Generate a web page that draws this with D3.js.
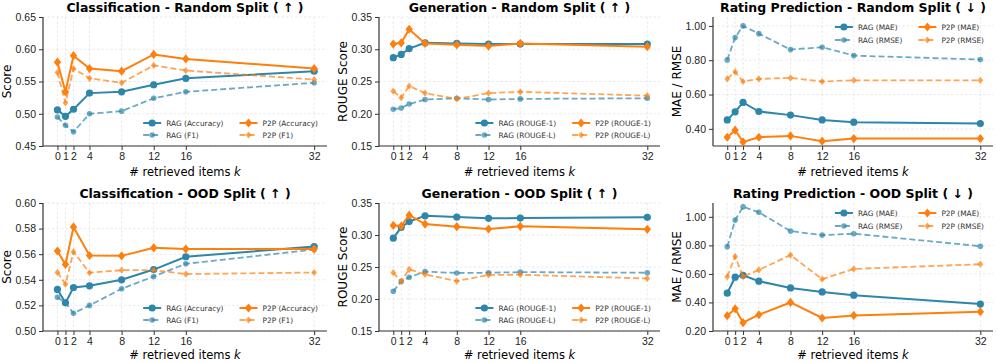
<!DOCTYPE html>
<meta charset="utf-8">
<style>
body { margin: 0; background: #fff; }
svg { font-family: "DejaVu Sans", sans-serif; }
.tick text { font-size: 10.5px; fill: #222; }
.grid line { stroke: #ccc; stroke-opacity: 0.6; stroke-dasharray: 2.5,2; stroke-width: 0.7; }
.title { font-size: 12.5px; font-weight: bold; }
.alabel { font-size: 11.5px; }
.ylabel { font-size: 12px; }
.legend text { font-size: 7.4px; fill: #333; }
</style>
<svg width="997" height="363"></svg>
<script src="https://cdn.jsdelivr.net/npm/d3@7"></script>
<script>

var ks = [0, 1, 2, 4, 8, 12, 16, 32];

// classification, random split
var clsRandRagAcc = [0.506, 0.496, 0.507, 0.532, 0.534, 0.545, 0.555, 0.566];
var clsRandRagF1  = [0.495, 0.482, 0.472, 0.500, 0.504, 0.524, 0.534, 0.548];
var clsRandP2pAcc = [0.580, 0.534, 0.590, 0.570, 0.566, 0.592, 0.585, 0.570];
var clsRandP2pF1  = [0.564, 0.517, 0.570, 0.555, 0.548, 0.575, 0.567, 0.553];

// generation, random split
var genRandRagR1 = [0.287, 0.292, 0.301, 0.310, 0.309, 0.308, 0.308, 0.308];
var genRandRagRL = [0.207, 0.209, 0.215, 0.222, 0.224, 0.222, 0.223, 0.224];
var genRandP2pR1 = [0.308, 0.310, 0.331, 0.309, 0.307, 0.305, 0.309, 0.304];
var genRandP2pRL = [0.235, 0.225, 0.243, 0.232, 0.223, 0.232, 0.234, 0.228];

// rating, random split
var ratRandRagMAE  = [0.452, 0.499, 0.554, 0.501, 0.480, 0.452, 0.439, 0.431];
var ratRandRagRMSE = [0.802, 0.932, 1.000, 0.955, 0.862, 0.876, 0.827, 0.804];
var ratRandP2pMAE  = [0.351, 0.392, 0.324, 0.351, 0.359, 0.328, 0.343, 0.343];
var ratRandP2pRMSE = [0.691, 0.732, 0.676, 0.691, 0.697, 0.676, 0.683, 0.683];

// classification, ood split
var clsOodRagAcc = [0.5325, 0.522, 0.534, 0.5353, 0.540, 0.548, 0.558, 0.566];
var clsOodRagF1  = [0.5263, 0.522, 0.5138, 0.520, 0.533, 0.5426, 0.5525, 0.5636];
var clsOodP2pAcc = [0.5625, 0.552, 0.5813, 0.559, 0.5587, 0.565, 0.564, 0.564];
var clsOodP2pF1  = [0.5458, 0.5366, 0.5618, 0.5455, 0.5475, 0.5475, 0.5445, 0.5457];

// generation, ood split
var genOodRagR1 = [0.295, 0.312, 0.321, 0.330, 0.328, 0.326, 0.3265, 0.3276];
var genOodRagRL = [0.212, 0.2275, 0.234, 0.2427, 0.2406, 0.241, 0.242, 0.241];
var genOodP2pR1 = [0.315, 0.314, 0.331, 0.317, 0.313, 0.3094, 0.3135, 0.3088];
var genOodP2pRL = [0.2412, 0.2277, 0.2464, 0.2386, 0.228, 0.2375, 0.238, 0.232];

// rating, ood split
var ratOodRagMAE  = [0.465, 0.577, 0.590, 0.549, 0.502, 0.474, 0.451, 0.389];
var ratOodRagRMSE = [0.791, 0.977, 1.070, 1.032, 0.900, 0.872, 0.882, 0.794];
var ratOodP2pMAE  = [0.307, 0.356, 0.258, 0.314, 0.400, 0.291, 0.309, 0.335];
var ratOodP2pRMSE = [0.581, 0.722, 0.581, 0.628, 0.732, 0.563, 0.635, 0.668];

var blue = "#2E86AB", orange = "#FF7F0E";

var panels = [
  {title: "Classification - Random Split ( \u2191 )", ylab: "Score", y: [0.45, 0.65], ticks: [0.45, 0.50, 0.55, 0.60, 0.65],
   names: ["Accuracy", "F1"], s: [clsRandRagAcc, clsRandRagF1, clsRandP2pAcc, clsRandP2pF1], leg: "lower",
   box: [43, 327, 17, 146]},
  {title: "Generation - Random Split ( \u2191 )", ylab: "ROUGE Score", y: [0.15, 0.35], ticks: [0.15, 0.20, 0.25, 0.30, 0.35],
   names: ["ROUGE-1", "ROUGE-L"], s: [genRandRagR1, genRandRagRL, genRandP2pR1, genRandP2pRL], leg: "lower",
   box: [379, 660, 17, 146]},
  {title: "Rating Prediction - Random Split ( \u2193 )", ylab: "MAE / RMSE", y: [0.30, 1.052], ticks: [0.40, 0.60, 0.80, 1.00],
   names: ["MAE", "RMSE"], s: [ratRandRagMAE, ratRandRagRMSE, ratRandP2pMAE, ratRandP2pRMSE], leg: "upper",
   box: [713, 993, 17, 146]},
  {title: "Classification - OOD Split ( \u2191 )", ylab: "Score", y: [0.50, 0.60], ticks: [0.50, 0.52, 0.54, 0.56, 0.58, 0.60],
   names: ["Accuracy", "F1"], s: [clsOodRagAcc, clsOodRagF1, clsOodP2pAcc, clsOodP2pF1], leg: "lower",
   box: [43, 327, 203, 331]},
  {title: "Generation - OOD Split ( \u2191 )", ylab: "ROUGE Score", y: [0.15, 0.35], ticks: [0.15, 0.20, 0.25, 0.30, 0.35],
   names: ["ROUGE-1", "ROUGE-L"], s: [genOodRagR1, genOodRagRL, genOodP2pR1, genOodP2pRL], leg: "lower",
   box: [379, 660, 203, 331]},
  {title: "Rating Prediction - OOD Split ( \u2193 )", ylab: "MAE / RMSE", y: [0.20, 1.097], ticks: [0.20, 0.40, 0.60, 0.80, 1.00],
   names: ["MAE", "RMSE"], s: [ratOodRagMAE, ratOodRagRMSE, ratOodP2pMAE, ratOodP2pRMSE], leg: "upper",
   box: [713, 993, 203, 331]}
];

var svg = d3.select("svg");

// style of the four series: RAG solid, RAG dashed, P2P solid, P2P dashed
var styles = [
  {color: blue, dash: null, op: 1, lw: 2, shape: "circle", size: 3.6},
  {color: blue, dash: "6,3", op: 0.7, lw: 1.8, shape: "circle", size: 2.8},
  {color: orange, dash: null, op: 1, lw: 2, shape: "diamond", size: 4.6},
  {color: orange, dash: "6,3", op: 0.7, lw: 1.8, shape: "diamond", size: 3.6}
];

function marker(g, st, x, y) {
  if (st.shape == "circle") {
    g.append("circle").attr("cx", x).attr("cy", y).attr("r", st.size)
      .attr("fill", st.color).attr("fill-opacity", st.op);
  } else {
    var r = st.size;
    g.append("path").attr("d", "M" + x + "," + (y - r) + "L" + (x + r * 0.8) + "," + y +
        "L" + x + "," + (y + r) + "L" + (x - r * 0.8) + "," + y + "Z")
      .attr("fill", st.color).attr("fill-opacity", st.op);
  }
}

panels.forEach(function(p) {
  var b = p.box;
  var x = d3.scaleLinear().domain([-1.8, 33.6]).range([b[0], b[1]]);
  var y = d3.scaleLinear().domain(p.y).range([b[3], b[2]]);
  var g = svg.append("g");

  // grid
  var grid = g.append("g").attr("class", "grid");
  grid.selectAll(".gx").data(ks).enter().append("line")
    .attr("x1", function(d) { return x(d); }).attr("x2", function(d) { return x(d); })
    .attr("y1", b[2]).attr("y2", b[3]);
  grid.selectAll(".gy").data(p.ticks).enter().append("line")
    .attr("x1", b[0]).attr("x2", b[1])
    .attr("y1", function(d) { return y(d); }).attr("y2", function(d) { return y(d); });

  // axes
  var ax = g.append("g").attr("transform", "translate(0," + b[3] + ")")
    .call(d3.axisBottom(x).tickValues(ks).tickSize(4).tickPadding(3).tickFormat(d3.format("d")));
  var ay = g.append("g").attr("transform", "translate(" + b[0] + ",0)")
    .call(d3.axisLeft(y).tickValues(p.ticks).tickSize(4).tickPadding(3).tickFormat(d3.format(".2f")));
  [ax, ay].forEach(function(a) {
    a.select(".domain").attr("stroke", "#333").attr("stroke-width", 1.2);
    a.selectAll(".tick line").attr("stroke", "#333").attr("stroke-width", 1);
  });
  ax.select(".domain").attr("d", "M" + b[0] + ",0H" + b[1]);
  ay.select(".domain").attr("d", "M0," + b[2] + "V" + b[3]);

  // labels
  g.append("text").attr("class", "title").attr("x", (b[0] + b[1]) / 2).attr("y", b[2] - 5)
    .attr("text-anchor", "middle").text(p.title);
  var xl = g.append("text").attr("class", "alabel").attr("x", (b[0] + b[1]) / 2)
    .attr("y", b[3] + (b[3] > 200 ? 28 : 30))
    .attr("text-anchor", "middle");
  xl.append("tspan").text("# retrieved items ");
  xl.append("tspan").attr("font-style", "italic").text("k");
  g.append("text").attr("class", "ylabel")
    .attr("transform", "translate(" + (b[0] - 32) + "," + ((b[2] + b[3]) / 2) + ") rotate(-90)")
    .attr("text-anchor", "middle").text(p.ylab);

  // series
  var line = d3.line().x(function(d, i) { return x(ks[i]); }).y(function(d) { return y(d); });
  p.s.forEach(function(vals, si) {
    var st = styles[si];
    var sg = g.append("g");
    sg.append("path").datum(vals).attr("d", line).attr("fill", "none")
      .attr("stroke", st.color).attr("stroke-opacity", st.op).attr("stroke-width", st.lw)
      .attr("stroke-dasharray", st.dash);
    vals.forEach(function(v, i) { marker(sg, st, x(ks[i]), y(v)); });
  });

  // legend, two columns
  var labels = ["RAG (" + p.names[0] + ")", "RAG (" + p.names[1] + ")",
                "P2P (" + p.names[0] + ")", "P2P (" + p.names[1] + ")"];
  var lg = g.append("g").attr("class", "legend");
  var items = labels.map(function(t) {
    var e = lg.append("g");
    e.append("text").attr("x", 23).attr("dy", "0.35em").text(t);
    return e;
  });
  var w = items.map(function(e) { return e.select("text").node().getComputedTextLength(); });
  var c1 = Math.max(w[0], w[1]) + 23, c2 = Math.max(w[2], w[3]) + 23;
  var total = c1 + 16 + c2;
  var x0 = b[1] - 9 - total;
  var rows = p.leg == "lower" ? [b[3] - 23, b[3] - 11] : [b[2] + 10, b[2] + 23];
  items.forEach(function(e, i) {
    var ex = i < 2 ? x0 : x0 + c1 + 16;
    var ey = rows[i % 2];
    e.attr("transform", "translate(" + ex + "," + ey + ")");
    var st = styles[i];
    e.append("line").attr("x1", 0).attr("x2", 18).attr("y1", 0).attr("y2", 0)
      .attr("stroke", st.color).attr("stroke-opacity", st.op).attr("stroke-width", st.lw)
      .attr("stroke-dasharray", st.dash);
    marker(e, st, 9, 0);
  });
});

</script>
